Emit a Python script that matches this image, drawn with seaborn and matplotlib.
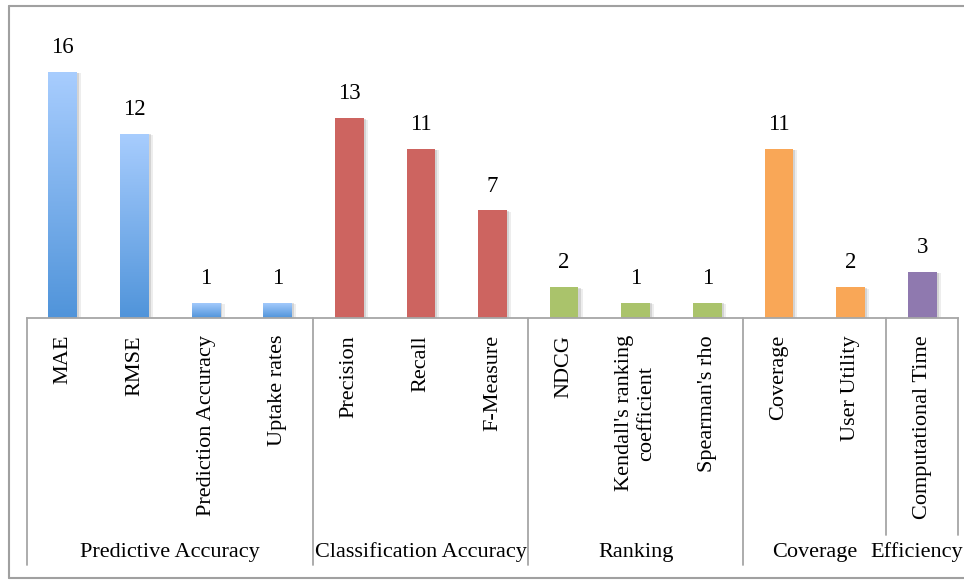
import numpy as np
import pandas as pd
import matplotlib
matplotlib.use("Agg")
import matplotlib.pyplot as plt
import matplotlib.patheffects as pe
from matplotlib.lines import Line2D
import matplotlib.transforms as mtransforms
import seaborn as sns

# ---- data ----
metrics = ["MAE", "RMSE", "Prediction Accuracy", "Uptake rates",
           "Precision", "Recall", "F-Measure",
           "NDCG", "Kendall's ranking\ncoefficient", "Spearman's rho",
           "Coverage", "User Utility",
           "Computational Time"]
counts = [16, 12, 1, 1, 13, 11, 7, 2, 1, 1, 11, 2, 3]
groups = ["Predictive Accuracy", "Classification Accuracy", "Ranking",
          "Coverage", "Efficiency"]
group_sizes = [4, 3, 3, 2, 1]
group_colors = ["#7DB3F0", "#CD6460", "#AAC36B", "#F9A757", "#8F79AF"]

group_of = [g for g, n in zip(groups, group_sizes) for _ in range(n)]
df = pd.DataFrame({"metric": metrics, "count": counts, "group": group_of})
bar_palette = {m: group_colors[groups.index(g)] for m, g in zip(metrics, group_of)}

sns.set_theme(style="white")
plt.rcParams["font.family"] = ["Liberation Serif", "DejaVu Serif"]

W, H = 964, 580
fig = plt.figure(figsize=(W / 100, H / 100), dpi=100)
# plot area in pixels: x 27..958, y 20..318 (from top)
left, right, top, base = 27, 958, 20, 318
ax = fig.add_axes([left / W, (H - base) / H, (right - left) / W, (base - top) / H])

sns.barplot(data=df, x="metric", y="count", hue="metric", palette=bar_palette,
            order=metrics, hue_order=metrics, width=0.4, legend=False,
            saturation=1, ax=ax)

px_per_unit = 15.375
ax.set_xlim(-0.5, len(metrics) - 0.5)
ax.set_ylim(0, (base - top) / px_per_unit)

# soft drop shadow to the right of each bar
shadow = [pe.SimplePatchShadow(offset=(3, -1), shadow_rgbFace="#bbbbbb", alpha=0.25),
          pe.SimplePatchShadow(offset=(1.5, -0.5), shadow_rgbFace="#999999", alpha=0.3),
          pe.Normal()]

# blue gradient for the first group
grad_top = np.array([168, 205, 254]) / 255
grad_bot = np.array([80, 148, 218]) / 255
t = np.linspace(0, 1, 256)[:, None]
grad = (grad_bot * (1 - t) + grad_top * t)[:, None, :]  # row 0 = bottom

for i, container in enumerate(ax.containers):
    for bar in container:
        bar.set_path_effects(shadow)
        bar.set_edgecolor("none")
        if group_of[i] == groups[0]:
            x0, y0 = bar.get_x(), bar.get_y()
            w, h = bar.get_width(), bar.get_height()
            im = ax.imshow(grad, extent=[x0, x0 + w, y0, y0 + h], origin="lower",
                           aspect="auto", zorder=bar.get_zorder() + 0.1,
                           interpolation="bilinear")
            im.set_clip_path(bar)
        ax.annotate(f"{counts[i]}", xy=(bar.get_x() + bar.get_width() / 2, bar.get_height()),
                    xytext=(0, 13.5), textcoords="offset points", ha="center",
                    va="baseline", fontsize=16.5, color="black")

ax.set_xlim(-0.5, len(metrics) - 0.5)
ax.set_ylim(0, (base - top) / px_per_unit)

# axes styling
for s in ["top", "right", "left"]:
    ax.spines[s].set_visible(False)
ax.spines["bottom"].set_color("#A6A6A6")
ax.spines["bottom"].set_linewidth(1.3)
ax.set_yticks([])
ax.set_xlabel("")
ax.set_ylabel("")
ax.tick_params(axis="x", length=0, pad=12.2, labelsize=16, colors="black")
plt.setp(ax.get_xticklabels(), rotation=90, ha="center", va="top",
         multialignment="center")

# multi-level category axis
trans = mtransforms.blended_transform_factory(ax.transData, ax.transAxes)
span = base - top
y_long = -(565 - base) / span
y_short = -(535 - base) / span
y_glabel = -(552 - base) / span
bounds = np.concatenate([[0], np.cumsum(group_sizes)]) - 0.5
line_kw = dict(color="#A6A6A6", lw=1.3, transform=trans, clip_on=False)
for k, b in enumerate(bounds):
    ylow = y_short if k >= len(bounds) - 2 else y_long
    ax.add_line(Line2D([b, b], [0, ylow], **line_kw))
for g, b0, b1 in zip(groups, bounds[:-1], bounds[1:]):
    cx = (b0 + b1) / 2
    if g == "Efficiency":
        cx -= 0.07
    ax.text(cx, y_glabel, g, transform=trans, ha="center", va="center",
            fontsize=16, color="black", clip_on=False)

# outer chart border
bcol = "#A0A0A0"
fig.add_artist(Line2D([9 / W, 9 / W], [(H - 6) / H, (H - 578) / H], color=bcol, lw=1.5,
                      transform=fig.transFigure))
fig.add_artist(Line2D([9 / W, 1], [(H - 6) / H, (H - 6) / H], color=bcol, lw=1.5,
                      transform=fig.transFigure))
fig.add_artist(Line2D([9 / W, 1], [(H - 578) / H, (H - 578) / H], color=bcol, lw=1.5,
                      transform=fig.transFigure))

fig.savefig("out.png", dpi=100)
